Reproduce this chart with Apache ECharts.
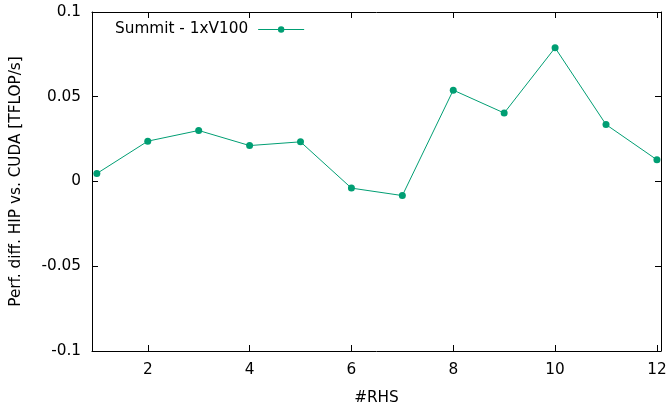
<!DOCTYPE html>
<html>
<head>
<meta charset="utf-8">
<script src="https://cdn.jsdelivr.net/npm/echarts@6/dist/echarts.min.js"></script>
<style>html,body{margin:0;padding:0;background:#fff}#c{width:670px;height:403px}</style>
</head>
<body>
<div id="c"></div>
<script>
const rhs = [1, 2, 3, 4, 5, 6, 7, 8, 9, 10, 11, 12];
const perfDiff = [0.0047, 0.0238, 0.0301, 0.0212, 0.0234, -0.0039, -0.0083, 0.0539, 0.0404, 0.0789, 0.0336, 0.0128];
const xTicks = [2, 4, 6, 8, 10, 12];
const yTicks = [-0.1, -0.05, 0, 0.05, 0.1];
const seriesName = 'Summit - 1xV100';

const font = 'DejaVu Sans';
const fs = 15.3;
const green = '#009e73';
const chart = echarts.init(document.getElementById('c'), null, {renderer: 'canvas'});
const axisLine = {show: true, onZero: false, lineStyle: {color: '#000', width: 1}};
chart.setOption({
  animation: false,
  textStyle: {fontFamily: font},
  grid: {left: 92, right: 9, top: 12, bottom: 52, containLabel: false, outerBoundsMode: 'none'},
  legend: {
    data: [seriesName], left: 110, top: 17, align: 'right',
    itemWidth: 46, itemHeight: 8, itemGap: 10,
    lineStyle: {width: 1},
    textStyle: {fontFamily: font, fontSize: fs, color: '#000', padding: [0, 5, 0, 0]}
  },
  xAxis: [{
    type: 'value', min: 0.905, max: 12.08, name: '#RHS', nameLocation: 'middle', nameGap: 40,
    nameTextStyle: {fontFamily: font, fontSize: fs, color: '#000'},
    axisLine: axisLine,
    axisTick: {inside: true, length: 6, customValues: xTicks, lineStyle: {color: '#000'}},
    axisLabel: {customValues: xTicks, fontFamily: font, fontSize: fs, color: '#000', margin: 12},
    splitLine: {show: false}
  }, {
    type: 'value', position: 'top', min: 0.905, max: 12.08,
    axisLine: axisLine,
    axisTick: {inside: true, length: 6, customValues: xTicks, lineStyle: {color: '#000'}},
    axisLabel: {show: false}, splitLine: {show: false}
  }],
  yAxis: [{
    type: 'value', min: -0.1, max: 0.1, interval: 0.05,
    name: 'Perf. diff. HIP vs. CUDA [TFLOP/s]', nameLocation: 'middle', nameGap: 68,
    nameTextStyle: {fontFamily: font, fontSize: fs, color: '#000'},
    axisLine: axisLine,
    axisTick: {inside: true, length: 6, customValues: yTicks, lineStyle: {color: '#000'}},
    axisLabel: {customValues: yTicks, fontFamily: font, fontSize: fs, color: '#000', margin: 11},
    splitLine: {show: false}
  }, {
    type: 'value', position: 'right', min: -0.1, max: 0.1, interval: 0.05,
    axisLine: axisLine,
    axisTick: {inside: true, length: 6, customValues: yTicks, lineStyle: {color: '#000'}},
    axisLabel: {show: false}, splitLine: {show: false}
  }],
  series: [{
    name: seriesName, type: 'line', xAxisIndex: 0, yAxisIndex: 0,
    data: rhs.map((x, i) => [x, perfDiff[i]]),
    symbol: 'circle', symbolSize: 7, showSymbol: true,
    itemStyle: {color: green}, lineStyle: {color: green, width: 1}
  }]
});
</script>
</body>
</html>
